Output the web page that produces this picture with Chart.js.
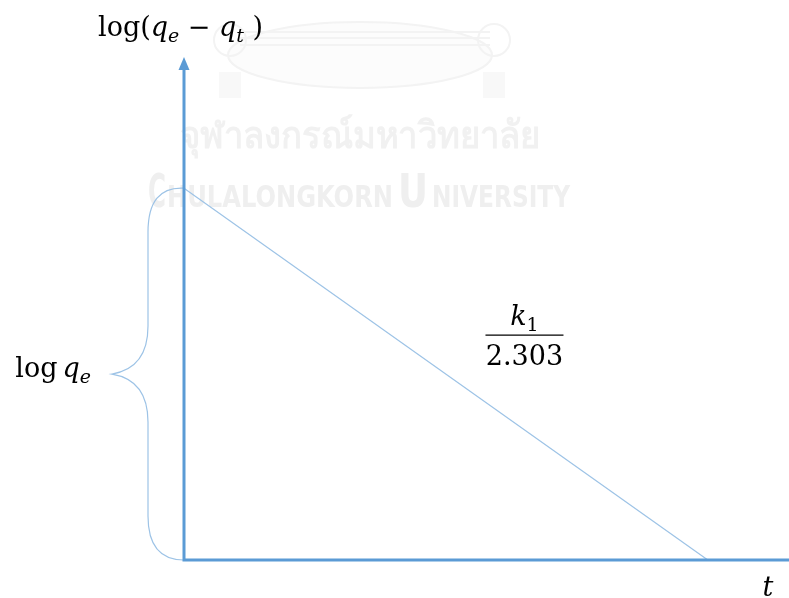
<!DOCTYPE html>
<html>
<head>
<meta charset="utf-8">
<script src="https://cdn.jsdelivr.net/npm/chart.js@4.4.0/dist/chart.umd.min.js"></script>
<style>
  html, body { margin: 0; padding: 0; background: #fff; }
  #wrap { width: 789px; height: 598px; }
</style>
</head>
<body>
<div id="wrap"><canvas id="kinetics" width="789" height="598"></canvas></div>
<script>
// pseudo-first-order plot: log(qe - qt) against t
const timeVals = [0, 1];
const logDiffVals = [1, 0];
const logQe = 1;            // intercept, marked with the brace
const xMax = 1.155;
const yMax = 1.35;
const slopePos = [0.65, 0.605];   // where the k1/2.303 fraction sits

const axisColor = '#5b9bd5';
const lineColor = '#9dc3e6';
const serif = "'DejaVu Serif', 'Liberation Serif', serif";

const yAxisLabel = [
  { t: 'log(' }, { t: 'q', it: true }, { t: 'e', it: true, sub: true },
  { t: ' \u2212 ' }, { t: 'q', it: true }, { t: 't', it: true, sub: true }, { t: ' )' }
];
const interceptLabel = [
  { t: 'log' }, { gap: 5 }, { t: 'q', it: true }, { t: 'e', it: true, sub: true }
];

function runFont(r) {
  const size = r.sub ? 19 : 27;
  return (r.it ? 'italic ' : '') + size + 'px ' + serif;
}

function runsWidth(ctx, runs) {
  let w = 0;
  runs.forEach(r => {
    if (r.gap) { w += r.gap; return; }
    ctx.font = runFont(r);
    w += ctx.measureText(r.t).width;
  });
  return w;
}

function drawRuns(ctx, runs, x, y) {
  ctx.textAlign = 'left';
  ctx.textBaseline = 'alphabetic';
  runs.forEach(r => {
    if (r.gap) { x += r.gap; return; }
    ctx.font = runFont(r);
    ctx.fillText(r.t, x, y + (r.sub ? 6 : 0));
    x += ctx.measureText(r.t).width;
  });
}

const watermark = {
  id: 'watermark',
  beforeDatasetsDraw(chart) {
    const ctx = chart.ctx;
    ctx.save();
    // faint crest
    ctx.strokeStyle = '#f3f3f3';
    ctx.fillStyle = '#fcfcfc';
    ctx.lineWidth = 2;
    ctx.beginPath();
    ctx.ellipse(360, 55, 132, 33, 0, 0, Math.PI * 2);
    ctx.fill();
    ctx.stroke();
    [32, 38, 45].forEach(yy => {
      ctx.beginPath();
      ctx.moveTo(240, yy);
      ctx.lineTo(490, yy);
      ctx.stroke();
    });
    [230, 494].forEach(cx => {
      ctx.beginPath();
      ctx.arc(cx, 40, 16, 0, Math.PI * 2);
      ctx.stroke();
      ctx.fillStyle = '#f8f8f8';
      ctx.fillRect(cx - 11, 72, 22, 26);
    });
    ctx.fillStyle = '#f1f1f1';
    ctx.font = "bold 38px 'Noto Sans', 'DejaVu Sans', sans-serif";
    ctx.textBaseline = 'alphabetic';
    ctx.fillText('\u0e08\u0e38\u0e2c\u0e32\u0e25\u0e07\u0e01\u0e23\u0e13\u0e4c\u0e21\u0e2b\u0e32\u0e27\u0e34\u0e17\u0e22\u0e32\u0e25\u0e31\u0e22', 180, 148, 360);
    ctx.fillStyle = '#efefef';
    const big = "bold 46px 'DejaVu Sans Condensed', 'Liberation Sans Narrow', sans-serif";
    const small = "bold 30px 'DejaVu Sans Condensed', 'Liberation Sans Narrow', sans-serif";
    ctx.font = big;
    ctx.fillText('C', 148, 207, 18);
    ctx.fillText('U', 398, 207, 30);
    ctx.font = small;
    ctx.fillText('HULALONGKORN', 167, 207, 226);
    ctx.fillText('NIVERSITY', 432, 207, 138);
    ctx.restore();
  }
};

const annotations = {
  id: 'annotations',
  afterDatasetsDraw(chart) {
    const ctx = chart.ctx;
    const xs = chart.scales.x, ys = chart.scales.y;
    const x0 = xs.getPixelForValue(0);
    const y0 = ys.getPixelForValue(0);
    const yTop = ys.getPixelForValue(yMax);
    const xEnd = xs.getPixelForValue(xMax);
    const yQe = ys.getPixelForValue(logQe);
    ctx.save();

    // brace spanning 0 .. log qe
    const armX = x0 - 36, tipX = x0 - 72;
    const midY = (y0 + yQe) / 2;
    ctx.strokeStyle = lineColor;
    ctx.lineWidth = 1.2;
    ctx.beginPath();
    ctx.moveTo(x0, yQe);
    ctx.quadraticCurveTo(armX, yQe - 2, armX, yQe + 44);
    ctx.lineTo(armX, midY - 48);
    ctx.quadraticCurveTo(armX, midY - 6, tipX, midY);
    ctx.quadraticCurveTo(armX, midY + 6, armX, midY + 48);
    ctx.lineTo(armX, y0 - 44);
    ctx.quadraticCurveTo(armX, y0, x0, y0);
    ctx.stroke();

    // axes
    ctx.strokeStyle = axisColor;
    ctx.lineWidth = 3;
    ctx.beginPath();
    ctx.moveTo(x0, y0 + 1.5);
    ctx.lineTo(x0, yTop + 10);
    ctx.moveTo(x0 - 1.5, y0);
    ctx.lineTo(xEnd, y0);
    ctx.stroke();
    ctx.fillStyle = axisColor;
    ctx.beginPath();
    ctx.moveTo(x0, yTop - 1);
    ctx.lineTo(x0 - 5.5, yTop + 12);
    ctx.lineTo(x0 + 5.5, yTop + 12);
    ctx.closePath();
    ctx.fill();

    // labels
    ctx.fillStyle = '#000';
    drawRuns(ctx, yAxisLabel, x0 - 86, yTop - 22);
    const lw = runsWidth(ctx, interceptLabel);
    drawRuns(ctx, interceptLabel, tipX - 21 - lw, midY + 3);

    // slope fraction
    const fx = xs.getPixelForValue(slopePos[0]);
    const fy = ys.getPixelForValue(slopePos[1]);
    const num = [{ t: 'k', it: true }, { t: '1', sub: true }];
    drawRuns(ctx, num, fx - runsWidth(ctx, num) / 2, fy - 10);
    ctx.strokeStyle = '#000';
    ctx.lineWidth = 1.3;
    ctx.beginPath();
    ctx.moveTo(fx - 39, fy);
    ctx.lineTo(fx + 39, fy);
    ctx.stroke();
    ctx.font = '27px ' + serif;
    ctx.textAlign = 'center';
    ctx.fillText('2.303', fx, fy + 30);

    ctx.font = 'italic 27px ' + serif;
    ctx.fillText('t', xEnd - 21, y0 + 36);
    ctx.restore();
  }
};

new Chart(document.getElementById('kinetics'), {
  type: 'line',
  data: {
    datasets: [{
      data: timeVals.map((t, i) => ({ x: t, y: logDiffVals[i] })),
      borderColor: lineColor,
      borderWidth: 1.2,
      pointRadius: 0,
      tension: 0,
      clip: false
    }]
  },
  options: {
    responsive: false,
    animation: false,
    layout: { padding: { left: 184, top: 58, right: 0, bottom: 38 } },
    plugins: { legend: { display: false }, tooltip: { enabled: false } },
    scales: {
      x: { type: 'linear', min: 0, max: xMax, display: false },
      y: { type: 'linear', min: 0, max: yMax, display: false }
    }
  },
  plugins: [watermark, annotations]
});
</script>
</body>
</html>
